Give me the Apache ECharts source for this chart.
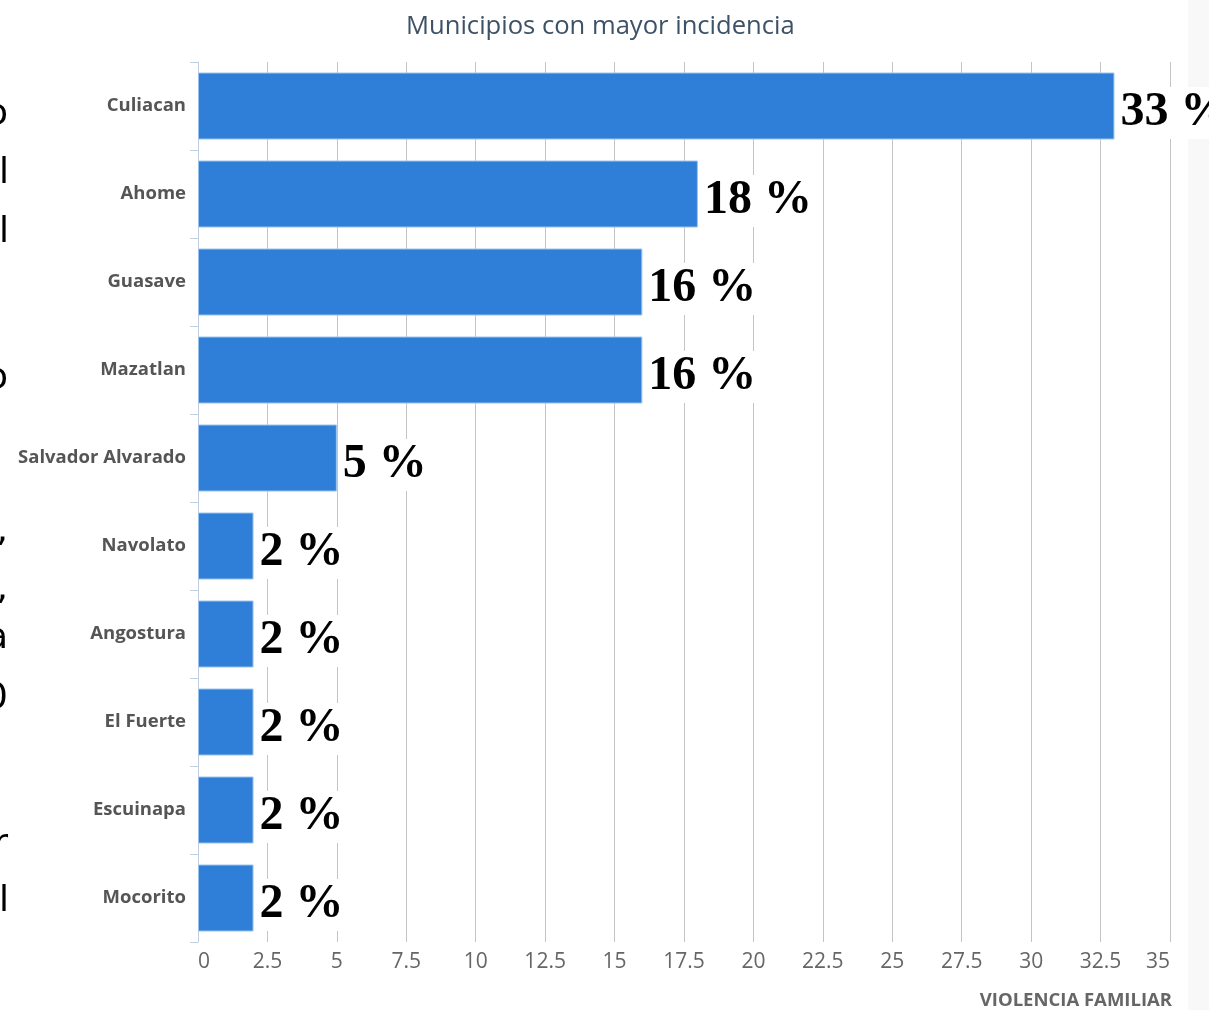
<!DOCTYPE html>
<html>
<head>
<meta charset="utf-8">
<script src="https://cdn.jsdelivr.net/npm/echarts@6/dist/echarts.min.js"></script>
<style>
html,body{margin:0;padding:0;background:#fff;}
#chart{width:1209px;height:1010px;}
</style>
</head>
<body>
<div id="chart"></div>
<script>
const categories = ["Culiacan","Ahome","Guasave","Mazatlan","Salvador Alvarado","Navolato","Angostura","El Fuerte","Escuinapa","Mocorito"];
const values = [33, 18, 16, 16, 5, 2, 2, 2, 2, 2];
const titleText = "Municipios con mayor incidencia";
const footerText = "VIOLENCIA FAMILIAR";
const sideFragments = [
  {t:"o", y:115, a:"right", x:8},
  {t:"l", y:174, a:"left", x:-1},
  {t:"l", y:233, a:"left", x:-1},
  {t:"o", y:379, a:"right", x:8},
  {t:",", y:532, a:"right", x:8},
  {t:",", y:590, a:"right", x:8},
  {t:"a", y:639, a:"right", x:8},
  {t:"0", y:699, a:"right", x:8},
  {t:"r", y:845, a:"right", x:8},
  {t:"l", y:902, a:"left", x:-1}
];

const chart = echarts.init(document.getElementById('chart'));
const graphics = [
  {type:'rect', shape:{x:1188,y:0,width:21,height:1010}, style:{fill:'#f8f8f8'}, z:-10},
  {type:'text', right:37, top:991, style:{text:footerText, fill:'#666666', font:'bold 18.5px "Open Sans"', textAlign:'right'}}
];
sideFragments.forEach(f => {
  graphics.push({type:'text', x:f.x, y:f.y, style:{text:f.t, fill:'#000', font:'36px "DejaVu Sans"', textAlign:f.a, textVerticalAlign:'middle'}});
});

chart.setOption({
  animation:false,
  backgroundColor:'#ffffff',
  title:{
    text:titleText, left:401, top:9,
    textStyle:{fontFamily:'Open Sans', fontSize:25.6, fontWeight:'normal', color:'#3d5266'}
  },
  grid:{left:198, right:39, top:62, bottom:68, containLabel:false},
  xAxis:{
    type:'value', min:0, max:35, interval:2.5,
    axisLine:{show:false}, axisTick:{show:false},
    splitLine:{show:true, lineStyle:{color:'#c4c4c4', width:1}},
    axisLabel:{fontFamily:'Open Sans', fontSize:21, color:'#666666', margin:10,
      alignMinLabel:'left', alignMaxLabel:'right',
      formatter: v => String(v)}
  },
  yAxis:{
    type:'category', data:categories, inverse:true,
    axisLine:{show:true, lineStyle:{color:'#c0d0e0', width:1}},
    axisTick:{show:true, length:8, lineStyle:{color:'#c0d0e0'}},
    axisLabel:{fontFamily:'Open Sans', fontWeight:'bold', fontSize:18.5, color:'#555555', margin:12}
  },
  series:[{
    type:'bar', data:values, barWidth:67,
    itemStyle:{color:'#2f7ed8', borderColor:'#9cc3ee', borderWidth:1},
    label:{show:true, position:'right', distance:4, offset:[0,7], formatter:'{c} %',
      fontFamily:'Liberation Serif', fontWeight:'bold', fontSize:48, color:'#000',
      backgroundColor:'#ffffff', padding:[2,2,2,2]}
  }],
  graphic:graphics
});
</script>
</body>
</html>
